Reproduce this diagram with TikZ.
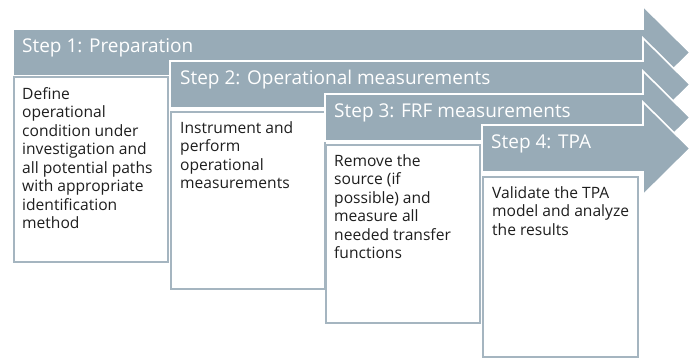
\documentclass[tikz,border=0pt]{standalone}
\usepackage{fontspec}
\setmainfont{Open Sans}

\definecolor{stepgrey}{RGB}{152,171,183}
\definecolor{boxline}{RGB}{165,181,192}
\definecolor{bodytext}{RGB}{30,30,30}

% arrow of one step: #1 = left x, #2 = top y
\newcommand{\steparrow}[2]{%
  \fill[stepgrey, draw=white, line width=1.6pt]
    (#1,#2) -- (643,#2) -- (643,{#2-23}) -- (690,{#2+23.5})
    -- (643,{#2+70}) -- (643,{#2+47}) -- (#1,{#2+47}) -- cycle;}

\begin{document}
\begin{tikzpicture}[x=1pt,y=-1pt]
   \useasboundingbox (0,0) rectangle (696,358);
   \tikzset{
     headtext/.style={anchor=base west,inner sep=0pt,text=white,font=\fontsize{19}{19}\selectfont},
     bodybox/.style={draw=boxline,fill=white,line width=2pt},
     bodytext/.style={anchor=north west,inner sep=0pt,text=bodytext,align=left,
       font=\fontsize{15.6}{18.5}\selectfont}
   }
   % step 1
   \steparrow{13}{29}
   \draw[bodybox] (14,77) rectangle (168,262);
   % step 2
   \steparrow{170}{61}
   \draw[bodybox] (171,112) rectangle (325,289);
   % step 3
   \steparrow{325}{94}
   \draw[bodybox] (326,145) rectangle (480,323);
   % step 4
   \steparrow{482}{125}
   \draw[bodybox] (483,177) rectangle (638,357);

   \begin{scope}[every node/.style={headtext}]
    \node (h1) at (22,53) {Step 1: Preparation};
    \node (h2) at (180,85) {Step 2: Operational measurements};
    \node (h3) at (334,118) {Step 3: FRF measurements};
    \node (h4) at (491,149) {Step 4: TPA};
   \end{scope}
   \begin{scope}[every node/.style={bodytext}]
    \node (t1) at (22,87) {Define\\operational\\condition under\\investigation and\\all potential paths\\with appropriate\\identification\\method};
    \node (t2) at (180,121) {Instrument and\\perform\\operational\\measurements};
    \node (t3) at (334,154) {Remove the\\source (if\\possible) and\\measure all\\needed transfer\\functions};
    \node (t4) at (492,186) {Validate the TPA\\model and analyze\\the results};
   \end{scope}
\end{tikzpicture}
\end{document}
